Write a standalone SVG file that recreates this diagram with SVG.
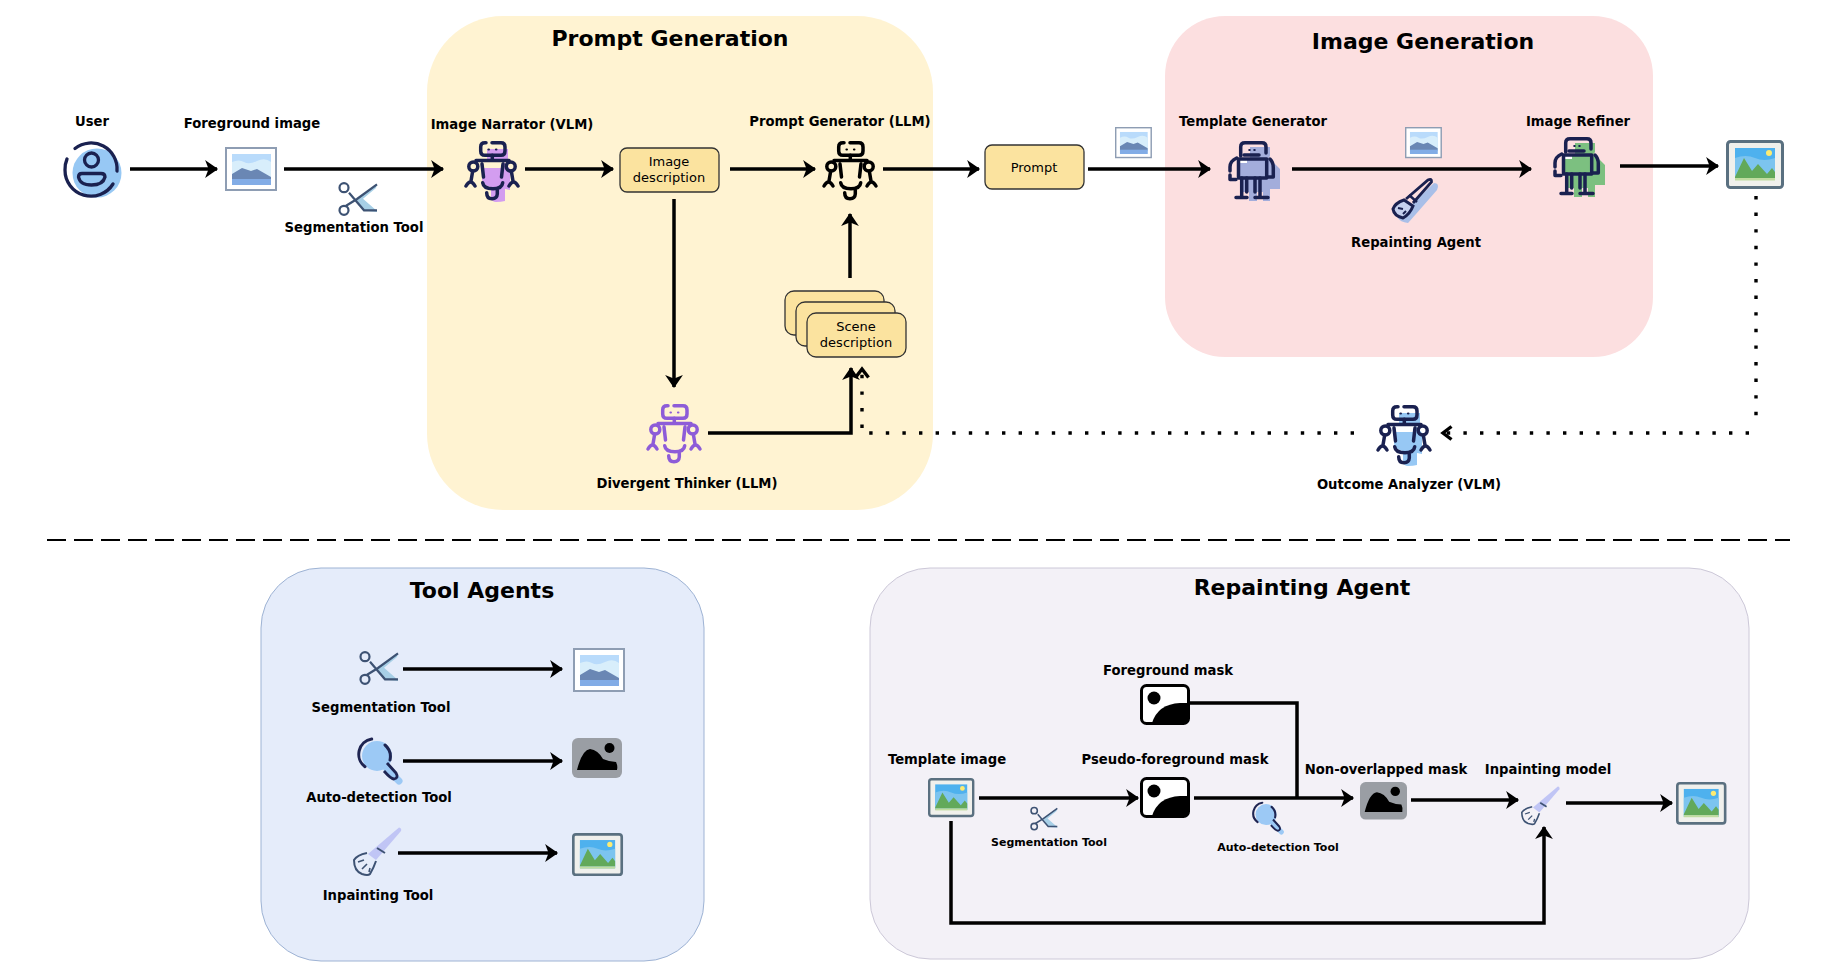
<svg xmlns="http://www.w3.org/2000/svg" width="1834" height="976" viewBox="0 0 1834 976">
<style>
text{font-family:"DejaVu Sans","Liberation Sans",sans-serif;fill:#000;text-anchor:middle}
.l{font-weight:700;font-size:13.2px}
.s{font-weight:700;font-size:11px}
.t{font-weight:700;font-size:22px}
.b{font-size:13px}
.box{fill:#fbe39f;stroke:#333;stroke-width:1.3}
.c{fill:none;stroke:#000;stroke-width:3.5}
.a{marker-end:url(#arr)}
.d{fill:none;stroke:#000;stroke-width:3.4;stroke-dasharray:3.4 13.2}
.da{marker-end:url(#arrd)}
.ro{fill:none;stroke:currentColor;stroke-width:3.5;stroke-linecap:round;stroke-linejoin:round}
</style>
<defs>
<marker id="arr" markerUnits="userSpaceOnUse" markerWidth="16" markerHeight="18" refX="13" refY="9" orient="auto">
<path d="M3 2.500L12.500 9L3 15.500L5.500 9Z" fill="#000" stroke="#000" stroke-width="1.800"/>
</marker>
<marker id="arrd" markerUnits="userSpaceOnUse" markerWidth="16" markerHeight="18" refX="13" refY="9" orient="auto">
<path d="M3.500 2.500L12 9L3.500 15.500" fill="none" stroke="#000" stroke-width="3.400"/>
</marker>
<g id="robotA" class="ro">
<path d="M21 .8H20Q15.700 .8 15.700 5V9Q15.700 13.300 20 13.300H36Q40 13.300 40 9V5Q40 .8 36 .8H27"/>
<path d="M27.300 13.300V18M11 18.500H44M17 22L18.500 35M38 22L36.500 35"/>
<circle cx="8.300" cy="24.500" r="4.500"/><circle cx="45.700" cy="24.500" r="4.500"/>
<path d="M7.700 29L6 39M1 44Q5.500 36 10 44M46.300 29L48 39M53 44Q48.500 36 44 44"/>
<path d="M17.700 40.700Q18.500 46.700 28 46.700Q37 46.700 37.700 40.700M32.300 47V52Q32 56.700 27 56.700Q21.700 56.700 21.700 50.700"/>
<path d="M23.500 7.500h.4M31 7.500h.4" stroke-width="2.200"/>
</g>
<g id="blobA" fill="currentColor"><path d="M22 7H43V20H39L45 27V48L40 47V59Q36 60 31 60Q27 60 26 56V45Q19 44 17 38V26H39V19H22Z"/></g>
<g id="robotB" class="ro">
<path d="M12.700 14V5Q12.700 .8 17 .8H34Q38 .8 38 5V11"/>
<path d="M16 13H31"/>
<rect x="10.500" y="17" width="28.200" height="19"/>
<path d="M8.700 16Q2 19 2 25V29M2 33V37.500H8M42 17Q45.300 20 45.300 26V35H40M13.700 36V55M18.700 36V50M32 36V55M27 36V50M8 55.500H19M27 55.500H40"/>
<path d="M21.300 8h.4M26.300 8h.4" stroke-width="2.200"/>
</g>
<path id="blobB" fill="currentColor" d="M22 5H42V14L40 17L46 21L52 27V47H42V59H35V50H29V59H21V50H14V36H12V18H22Z"/>
<g id="imgL">
<rect x="1" y="1" width="50" height="42" fill="#fff" stroke="#8e9db3" stroke-width="2"/>
<rect x="7" y="7" width="39" height="31" fill="#b9dbfb"/>
<path d="M7 15Q14 12 19 15T32 14T46 15V32H7Z" fill="#d8eefb"/>
<path d="M7 27L17 21L26 24L32 22L46 30V33H7Z" fill="#6a87b4"/>
<rect x="7" y="32" width="39" height="6" fill="#82ace6"/>
</g>
<g id="imgR">
<rect x="1.500" y="1.500" width="55" height="46" rx="3" fill="#f0f0ec" stroke="#5a7080" stroke-width="3"/>
<rect x="9" y="8" width="40" height="32" fill="#4eb1ee"/>
<path d="M9 18Q20 14 29 18T49 18V40H9Z" fill="#7cc4ef"/>
<path d="M9 37L18 18L26 31L32 24L41 34L46 28L49 32V38H9Z" fill="#62a95a"/>
<rect x="9" y="38" width="40" height="2.500" fill="#c0dca0"/>
<circle cx="43" cy="13" r="3" fill="#fdeb72"/>
</g>
<g id="maskG">
<rect x="0" y="0" width="50" height="40" rx="6" fill="#9a9ea4"/>
<circle cx="37.500" cy="10" r="5" fill="#000"/>
<path d="M5 32Q10 12 18 11Q26 12 31 21Q38 24 44 24Q46 28 45 32Z" fill="#000"/>
</g>
<g id="maskW">
<rect x="1.500" y="1.500" width="47" height="38" rx="5" fill="#fff" stroke="#000" stroke-width="3"/>
<circle cx="14" cy="14" r="6.500" fill="#000"/>
<path d="M12 39Q18 20 40 19H49V35Q49 40 44 40Z" fill="#000"/>
</g>
<g id="scis">
<path d="M39 3.300L38 7L25 17.700L39 30V31L26 29.500L18 18Z" fill="#a7cfe6"/>
<path d="M11 11.700L26 29.300H39M39 3.300L19 18L7.700 25" fill="none" stroke="#3d5273" stroke-width="2.200"/>
<circle cx="6" cy="6.700" r="4.500" fill="none" stroke="#3d5273" stroke-width="2.200"/>
<circle cx="6" cy="29.300" r="4.500" fill="none" stroke="#3d5273" stroke-width="2.200"/>
</g>
<g id="mag">
<circle cx="20" cy="18" r="15" fill="#9cc9f5"/>
<path d="M30 31L42 43" stroke="#9cc9f5" stroke-width="7" stroke-linecap="round"/>
<path d="M14.700 1A15.500 15.500 0 0 0 8 28.700M28 7A15.500 15.500 0 0 1 33 22" fill="none" stroke="#1f2552" stroke-width="3" stroke-linecap="round"/>
<path d="M30 25L39 35Q42 40 37 41Q34 41 27 33" fill="none" stroke="#1f2552" stroke-width="2.800" stroke-linejoin="round"/>
</g>
<g id="brush">
<path d="M46 .5Q49 1 48 4L23 33L15 27Z" fill="#c0c5f5"/>
<path d="M24 21L32 26" stroke="#3d5273" stroke-width="2"/>
<path d="M14 26Q4 28 1 33Q1 44 9 47Q15 49 17 47Q21 40 23 34" fill="none" stroke="#3d5273" stroke-width="2"/>
<path d="M5 35L11 33M9 42L14 37M16 45L17 41" fill="none" stroke="#3d5273" stroke-width="1.600"/>
</g>
</defs>

<rect x="0" y="0" width="1834" height="976" fill="#fff"/>

<g id="panels">
<g id="panel-prompt"><rect x="427" y="16" width="506" height="494" rx="76" fill="#fff3d2"/><text class="t" x="670" y="46">Prompt Generation</text></g>
<g id="panel-image"><rect x="1165" y="16" width="488" height="341" rx="60" fill="#fcdfe0"/><text class="t" x="1423" y="49">Image Generation</text></g>
<g id="panel-tools"><rect x="261" y="568" width="443" height="393" rx="60" fill="#e5ecfa" stroke="#9eb3d4" stroke-width="1"/><text class="t" x="482" y="598">Tool Agents</text></g>
<g id="panel-repaint"><rect x="870" y="568" width="879" height="391" rx="60" fill="#f3f1f7" stroke="#ccc8d8" stroke-width="1"/><text class="t" x="1302" y="595">Repainting Agent</text></g>
</g>
<path id="separator" d="M47 540H1790" fill="none" stroke="#000" stroke-width="2" stroke-dasharray="19 8"/>

<g id="connectors">
<path class="c a" d="M130 169H217"/>
<path class="c a" d="M284 169H443"/>
<path class="c a" d="M525 169H613"/>
<path class="c a" d="M730 169H815"/>
<path class="c a" d="M883 169H979"/>
<path class="c a" d="M1088 169H1210"/>
<path class="c a" d="M1292 169H1531"/>
<path class="c a" d="M1620 166H1718"/>
<path class="c a" d="M674 199V387"/>
<path class="c a" d="M850 278V214"/>
<path class="c a" d="M708 433H851V368"/>
<path class="d" d="M1756 196V428"/>
<path class="d da" d="M1749 433H1442"/>
<path class="d" d="M1354 433H866"/>
<path class="d da" d="M862 428V368"/>
<path class="c a" d="M403 669H562"/>
<path class="c a" d="M403 761H562"/>
<path class="c a" d="M398 853H557"/>
<path class="c a" d="M979 798H1138"/>
<path class="c a" d="M1194 798H1353"/>
<path class="c" d="M1190 703H1297V798"/>
<path class="c a" d="M951 821V923H1544V827"/>
<path class="c a" d="M1411 800H1518"/>
<path class="c a" d="M1566 803H1672"/>
</g>

<g id="user">
<text class="l" x="92" y="126">User</text>
<circle cx="97" cy="173" r="24.500" fill="#97c8f4"/>
<path d="M75 148.500A26 26 0 0 1 117 171M113 184A26 26 0 0 1 65 170A26 26 0 0 1 67 159" fill="none" stroke="#1a2150" stroke-width="3.300" stroke-linecap="round"/>
<circle cx="91.500" cy="160" r="7" fill="none" stroke="#1a2150" stroke-width="3.300"/>
<path d="M78.500 177Q78.500 173.500 82 173.500H101Q105 173.500 105 177Q103 185 91.500 185Q80 185 78.500 177Z" fill="none" stroke="#1a2150" stroke-width="3.300"/>
</g>
<g id="foreground-image"><text class="l" x="252" y="128">Foreground image</text><use href="#imgL" transform="translate(225 147)"/></g>
<g id="segmentation-tool-top"><use href="#scis" transform="translate(338 181)"/><text class="l" x="354" y="232">Segmentation Tool</text></g>
<g id="image-narrator"><text class="l" x="512" y="129">Image Narrator (VLM)</text><use href="#blobA" transform="translate(465 142)" color="#d39df0"/><use href="#robotA" transform="translate(465 142)" color="#1a2150"/></g>
<g id="image-description"><rect class="box" x="620" y="148" width="99" height="44" rx="7"/><text class="b" x="669" y="166">Image</text><text class="b" x="669" y="182">description</text></g>
<g id="prompt-generator"><text class="l" x="840" y="126">Prompt Generator (LLM)</text><use href="#robotA" transform="translate(823 142)" color="#000"/></g>
<g id="prompt"><rect class="box" x="985" y="145" width="99" height="44" rx="7"/><text class="b" x="1034" y="172">Prompt</text></g>
<g id="prompt-image"><use href="#imgL" transform="translate(1115 127) scale(.71)"/></g>
<g id="scene-description">
<rect class="box" x="785" y="291" width="99" height="44" rx="9"/>
<rect class="box" x="796" y="302" width="99" height="44" rx="9"/>
<rect class="box" x="807" y="313" width="99" height="44" rx="9"/>
<text class="b" x="856" y="331">Scene</text><text class="b" x="856" y="347">description</text>
</g>
<g id="divergent-thinker"><use href="#robotA" transform="translate(647 405)" color="#8d5cd8"/><text class="l" x="687" y="488">Divergent Thinker (LLM)</text></g>
<g id="template-generator"><text class="l" x="1253" y="126">Template Generator</text>
<use href="#blobB" transform="translate(1228 142)" color="#a3addb"/><path d="M1240 160H1247V163H1240Z" fill="#fff"/><use href="#robotB" transform="translate(1228 142)" color="#1a2150"/></g>
<g id="template-image-top"><use href="#imgL" transform="translate(1405 127) scale(.71)"/></g>
<g id="repainting-agent-top">
<path d="M1434 183Q1440 183 1437 190L1416 214L1408 223Q1400 222 1398 218L1412 204Z" fill="#a9bfe8"/>
<path d="M1406 199L1428 180Q1432 178 1431.500 182L1413 203" fill="#fcdfe0" stroke="#1a2150" stroke-width="2.800"/>
<path d="M1409 195L1417 202" stroke="#1a2150" stroke-width="2.500"/>
<path d="M1404 200Q1395 203 1393 209Q1394 216 1403 218Q1410 214 1413 206Z" fill="#c5d0ee" stroke="#1a2150" stroke-width="3"/>
<path d="M1398 208L1403 209M1403 214L1406 211" stroke="#1a2150" stroke-width="2"/>
<text class="l" x="1416" y="247">Repainting Agent</text></g>
<g id="image-refiner"><text class="l" x="1578" y="126">Image Refiner</text>
<use href="#blobB" transform="translate(1553 138)" color="#7cc080"/><path d="M1565 156H1572V159H1565Z" fill="#fff"/><use href="#robotB" transform="translate(1553 138)" color="#1a2150"/></g>
<g id="result-top"><use href="#imgR" transform="translate(1726 140)"/></g>
<g id="outcome-analyzer"><use href="#blobA" transform="translate(1377 406)" color="#97c8f4"/><use href="#robotA" transform="translate(1377 406)" color="#1a2150"/><text class="l" x="1409" y="489">Outcome Analyzer (VLM)</text></g>

<g id="tool-seg"><use href="#scis" transform="translate(359 650)"/><text class="l" x="381" y="712">Segmentation Tool</text></g>
<g id="tool-seg-out"><use href="#imgL" transform="translate(573 648)"/></g>
<g id="tool-det"><use href="#mag" transform="translate(357 738)"/><text class="l" x="379" y="802">Auto-detection Tool</text></g>
<g id="tool-det-out"><use href="#maskG" transform="translate(572 738)"/></g>
<g id="tool-inp"><use href="#brush" transform="translate(353 827)"/><text class="l" x="378" y="900">Inpainting Tool</text></g>
<g id="tool-inp-out"><use href="#imgR" transform="translate(572 833) scale(.88)"/></g>

<g id="foreground-mask"><text class="l" x="1168" y="675">Foreground mask</text><use href="#maskW" transform="translate(1140 684)"/></g>
<g id="template-image"><text class="l" x="947" y="764">Template image</text><use href="#imgR" transform="translate(928 778) scale(.8)"/></g>
<g id="pseudo-mask"><text class="l" x="1175" y="764">Pseudo-foreground mask</text><use href="#maskW" transform="translate(1140 777)"/></g>
<g id="segmentation-small"><use href="#scis" transform="translate(1030 806) scale(.7)"/><text class="s" x="1049" y="846">Segmentation Tool</text></g>
<g id="detection-small"><use href="#mag" transform="translate(1252 802) scale(.7)"/><text class="s" x="1278" y="851">Auto-detection Tool</text></g>
<g id="non-overlapped"><text class="l" x="1386" y="774">Non-overlapped mask</text><use href="#maskG" transform="translate(1360 782) scale(.94)"/></g>
<g id="inpainting-model"><text class="l" x="1548" y="774">Inpainting model</text><use href="#brush" transform="translate(1521 786) scale(.8)"/></g>
<g id="result-bottom"><use href="#imgR" transform="translate(1676 782) scale(.87)"/></g>
</svg>
